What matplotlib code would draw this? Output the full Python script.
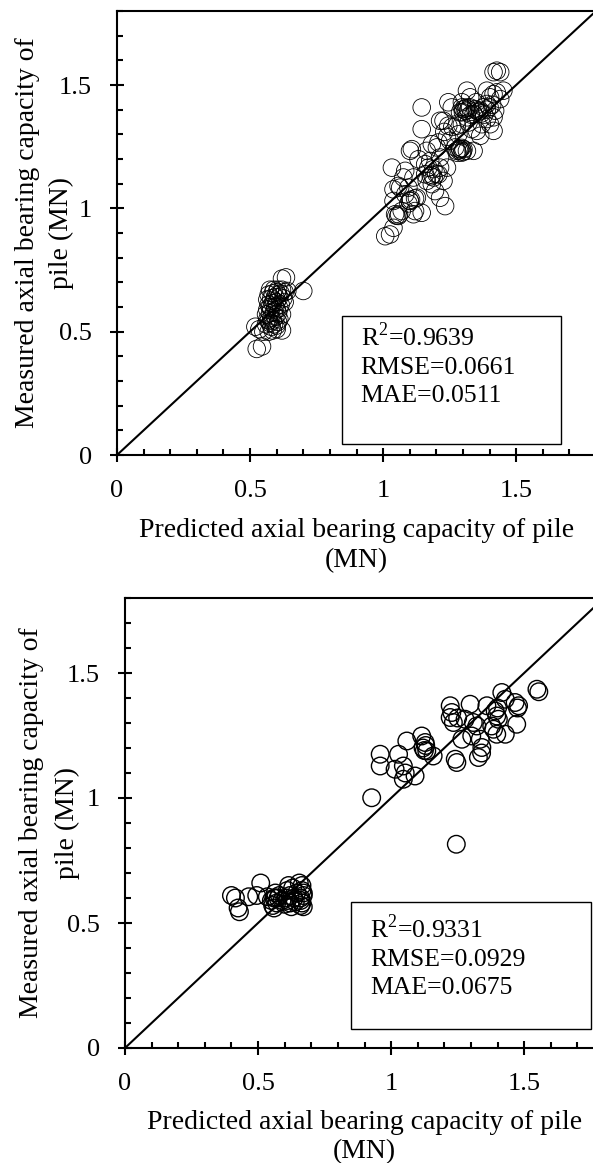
import numpy as np
import matplotlib
matplotlib.use("Agg")
from matplotlib import pyplot as plt
from matplotlib.ticker import MultipleLocator

plt.rcParams['font.family'] = ['Liberation Serif', 'DejaVu Serif']
plt.rcParams['mathtext.fontset'] = 'custom'
plt.rcParams['mathtext.rm'] = 'Liberation Serif'

# training set (top panel): predicted, measured
train_pred = [
    0.525, 0.545, 0.52, 0.535, 0.55, 0.57, 0.585, 0.60, 0.62, 0.56, 0.575, 0.59, 0.605, 0.565,
    0.58, 0.595, 0.61, 0.56, 0.575, 0.59, 0.605, 0.62, 0.565, 0.58, 0.595, 0.61, 0.57, 0.585,
    0.60, 0.615, 0.63, 0.565, 0.58, 0.595, 0.61, 0.625, 0.57, 0.585, 0.60, 0.615, 0.63, 0.575,
    0.59, 0.605, 0.62, 0.64, 0.62, 0.635, 0.70, 0.58, 0.60, 0.57, 0.585, 0.60, 0.575, 0.59, 0.605,
    1.008, 1.026, 1.039, 1.045, 1.057, 1.07, 1.039, 1.039, 1.033, 1.064, 1.083, 1.101, 1.127,
    1.12, 1.145, 1.114, 1.083, 1.108, 1.101, 1.145, 1.145, 1.114, 1.158, 1.17, 1.189, 1.214,
    1.208, 1.183, 1.227, 1.214, 1.233, 1.195, 1.24, 1.164, 1.183, 1.202, 1.208, 1.227, 1.214,
    1.245, 1.245, 1.252, 1.271, 1.277, 1.289, 1.296, 1.302, 1.315, 1.34, 1.283, 1.277, 1.296,
    1.302, 1.315, 1.327, 1.346, 1.352, 1.365, 1.377, 1.39, 1.402, 1.415, 1.427, 1.39, 1.315,
    1.296, 1.415, 1.427, 1.44, 1.421, 1.415, 1.402, 1.415, 1.371, 1.352, 1.365, 1.333, 1.321,
    1.34, 1.39, 1.452, 1.44, 1.327, 1.258, 1.289, 1.315, 1.296, 1.177, 1.133, 1.058, 1.095,
    1.164, 1.158, 1.076, 1.214, 1.05, 1.06, 1.10, 1.105, 1.18, 1.185, 1.19, 1.28, 1.285, 1.29,
    1.295, 1.30, 1.31, 1.32, 1.30, 1.31, 1.38, 1.39, 1.40, 1.41, 1.36, 1.37, 1.12, 1.095,
    1.23, 1.26, 1.33, 1.35, 1.24, 1.20,
]
train_meas = [
    0.43, 0.44, 0.52, 0.51, 0.50, 0.50, 0.505, 0.51, 0.505, 0.53, 0.535, 0.53, 0.54, 0.55,
    0.555, 0.56, 0.55, 0.57, 0.575, 0.58, 0.575, 0.57, 0.59, 0.595, 0.60, 0.595, 0.61, 0.615,
    0.62, 0.61, 0.62, 0.63, 0.635, 0.64, 0.64, 0.635, 0.65, 0.655, 0.66, 0.655, 0.66, 0.67,
    0.67, 0.67, 0.67, 0.665, 0.715, 0.72, 0.665, 0.52, 0.525, 0.545, 0.545, 0.59, 0.60, 0.625, 0.65,
    0.887, 0.894, 0.921, 0.976, 0.969, 0.989, 1.03, 1.077, 1.165, 1.084, 1.057, 1.03, 1.043,
    0.989, 0.982, 0.976, 1.152, 1.24, 1.233, 1.321, 1.409, 1.125, 1.138, 1.165, 1.159, 1.165,
    1.138, 1.098, 1.111, 1.043, 1.009, 1.07, 1.165, 1.233, 1.26, 1.247, 1.267, 1.355, 1.355,
    1.335, 1.43, 1.274, 1.247, 1.233, 1.24, 1.226, 1.24, 1.233, 1.233, 1.30, 1.335, 1.409,
    1.402, 1.409, 1.409, 1.402, 1.396, 1.396, 1.409, 1.423, 1.45, 1.463, 1.47, 1.477, 1.477,
    1.43, 1.552, 1.558, 1.552, 1.396, 1.369, 1.341, 1.314, 1.341, 1.314, 1.294, 1.321, 1.348,
    1.382, 1.362, 1.477, 1.443, 1.45, 1.409, 1.389, 1.369, 1.341, 1.192, 1.199, 1.091, 1.084,
    1.111, 1.179, 1.125, 1.206, 0.97, 0.975, 1.03, 1.035, 1.13, 1.135, 1.125, 1.225, 1.235, 1.24,
    1.245, 1.23, 1.395, 1.40, 1.39, 1.405, 1.38, 1.40, 1.41, 1.42, 1.39, 1.385, 1.04, 1.02,
    1.31, 1.33, 1.38, 1.43, 1.29, 1.14,
]

# testing set (bottom panel): predicted, measured
test_pred = [
    0.40, 0.415, 0.425, 0.43, 0.465, 0.495, 0.51, 0.535, 0.55, 0.555, 0.56, 0.565, 0.57, 0.56,
    0.575, 0.565, 0.58, 0.59, 0.60, 0.61, 0.615, 0.62, 0.62, 0.625, 0.63, 0.61, 0.605, 0.635,
    0.64, 0.645, 0.655, 0.66, 0.665, 0.665, 0.67, 0.67, 0.665, 0.66, 0.67, 0.66,
    0.927, 0.959, 0.959, 1.028, 1.015, 1.046, 1.053, 1.046, 1.059, 1.09, 1.115, 1.128, 1.12,
    1.134, 1.158, 1.222, 1.228, 1.222, 1.234, 1.241, 1.247, 1.266, 1.297, 1.309, 1.322, 1.335,
    1.341, 1.328, 1.303, 1.378, 1.391, 1.397, 1.403, 1.416, 1.429, 1.466, 1.479, 1.472, 1.429,
    1.397, 1.385, 1.548, 1.555, 1.36, 1.278, 1.25, 1.245, 1.13, 1.125, 1.34, 1.40, 1.475,
]
test_meas = [
    0.61, 0.60, 0.56, 0.545, 0.605, 0.61, 0.66, 0.605, 0.59, 0.57, 0.60, 0.62, 0.58, 0.56,
    0.60, 0.60, 0.61, 0.59, 0.575, 0.63, 0.65, 0.58, 0.61, 0.565, 0.64, 0.59, 0.60, 0.60,
    0.585, 0.62, 0.66, 0.60, 0.58, 0.63, 0.565, 0.61, 0.65, 0.59, 0.62, 0.57,
    1.001, 1.175, 1.128, 1.175, 1.115, 1.128, 1.10, 1.075, 1.228, 1.088, 1.248, 1.222, 1.20,
    1.188, 1.168, 1.369, 1.342, 1.322, 1.302, 1.155, 1.142, 1.235, 1.375, 1.302, 1.288, 1.235,
    1.202, 1.162, 1.248, 1.288, 1.348, 1.328, 1.315, 1.422, 1.395, 1.382, 1.369, 1.295, 1.255,
    1.255, 1.275, 1.435, 1.425, 1.369, 1.315, 1.32, 0.815, 1.21, 1.19, 1.18, 1.36, 1.36,
]

metrics = [
    "R$^2$=0.9639\nRMSE=0.0661\nMAE=0.0511",
    "R$^2$=0.9331\nRMSE=0.0929\nMAE=0.0675",
]

fig = plt.figure(figsize=(5.93, 11.63), dpi=100)
ax1 = fig.add_axes([117 / 593, 1 - 455 / 1163, 479 / 593, 444 / 1163])
ax2 = fig.add_axes([125 / 593, 1 - 1048 / 1163, 479 / 593, 450 / 1163])

# (axes, x, y, text, marker lw, box (x0, y0, w, h), text y, ylabel x (line1, line2), xlabel y)
panels = [
    (ax1, train_pred, train_meas, metrics[0], 0.6, (0.846, 0.045, 0.823, 0.52), 0.366,
     (-0.161, -0.115), -0.142),
    (ax2, test_pred, test_meas, metrics[1], 1.0, (0.85, 0.076, 0.90, 0.509), 0.366,
     (-0.169, -0.121), -0.137),
]
for ax, xp, ym, txt, lw, box, ty, ylx, xly in panels:
    ax.scatter(xp, ym, s=160, facecolors='none', edgecolors='black', linewidths=lw, zorder=2)
    ax.plot([0, 1.8], [0, 1.8], color='black', lw=1.5, zorder=3)
    ax.set_xlim(0, 1.8)
    ax.set_ylim(0, 1.8)
    ax.xaxis.set_major_locator(MultipleLocator(0.5))
    ax.yaxis.set_major_locator(MultipleLocator(0.5))
    ax.xaxis.set_minor_locator(MultipleLocator(0.1))
    ax.yaxis.set_minor_locator(MultipleLocator(0.1))
    ax.xaxis.set_major_formatter(plt.FuncFormatter(lambda v, p: f"{v:g}"))
    ax.yaxis.set_major_formatter(plt.FuncFormatter(lambda v, p: f"{v:g}"))
    ax.tick_params(which='major', direction='inout', length=10, width=1.5, labelsize=19, pad=13)
    ax.tick_params(which='minor', direction='in', length=4.5, width=1.5)
    ax.tick_params(top=False, right=False, which='both')
    for sp in ax.spines.values():
        sp.set_linewidth(1.5)
    ax.set_xlabel("Predicted axial bearing capacity of pile\n(MN)", fontsize=20, linespacing=1.25)
    ax.xaxis.set_label_coords(0.5, xly)
    # y label wraps onto two lines; second line placed separately
    ax.set_ylabel("Measured axial bearing capacity of", fontsize=20)
    ax.yaxis.set_label_coords(ylx[0], 0.5)
    ax.text(ylx[1], 0.5, "pile (MN)", transform=ax.transAxes, rotation=90,
            ha='center', va='center', fontsize=20)
    bx, by, bw, bh = box
    ax.add_patch(plt.Rectangle((bx, by), bw, bh, fill=True, facecolor='white', edgecolor='black', lw=1.0, zorder=4))
    ax.text(bx + 0.07, ty, txt, fontsize=18.5, va='center', ha='left', linespacing=1.35, zorder=5)

fig.savefig("out.png", dpi=100)
